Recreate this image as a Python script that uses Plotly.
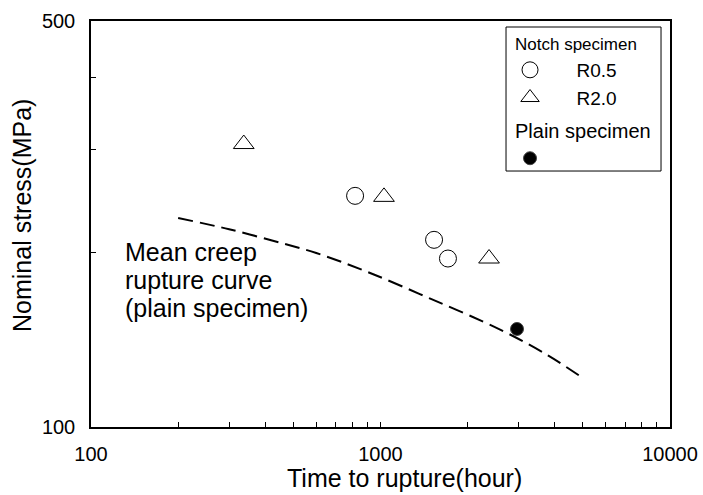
import plotly.graph_objects as go

# Data
r05_time = [817, 1531, 1710]
r05_stress = [250, 210, 195]
r20_time = [337, 1028, 2371]
r20_stress = [307, 249, 195]
plain_time = [2962]
plain_stress = [147.5]
curve_time = [200, 300, 460, 600, 900, 1500, 2600, 3800, 5000]
curve_stress = [229, 219, 207, 199.3, 185, 166, 147, 132.7, 121.4]

x_tickvals = [100, 200, 300, 400, 500, 600, 700, 800, 900, 1000,
              2000, 3000, 4000, 5000, 6000, 7000, 8000, 9000, 10000]
x_ticktext = ["100"] + [""] * 8 + ["1000"] + [""] * 8 + ["10000"]
y_tickvals = [100, 200, 300, 400, 500]
y_ticktext = ["100", "", "", "", "500"]

curve_label_lines = ["Mean creep", "rupture curve", "(plain specimen)"]
curve_label_y = [0.431, 0.362, 0.293]

FONT = "Arial, Liberation Sans, sans-serif"
NB = "\u00a0" * 5

fig = go.Figure()

fig.add_trace(go.Scatter(
    x=curve_time, y=curve_stress, mode="lines",
    line=dict(color="black", width=2, dash="15px,7px", shape="spline", smoothing=1),
    showlegend=False, hoverinfo="skip"))

fig.add_trace(go.Scatter(
    x=r05_time, y=r05_stress, mode="markers", name=NB + "R0.5",
    legendgroup="notch",
    legendgrouptitle=dict(text="Notch specimen", font=dict(size=17, family=FONT, color="black")),
    marker=dict(symbol="circle-open", size=17, color="black", line=dict(width=1, color="black"))))

fig.add_trace(go.Scatter(
    x=r20_time, y=r20_stress, mode="markers", name=NB + "R2.0",
    legendgroup="notch",
    marker=dict(symbol="triangle-up-open", size=18, color="black", line=dict(width=1, color="black"))))

fig.add_trace(go.Scatter(
    x=plain_time, y=plain_stress, mode="markers", name=" ",
    legendgroup="plain",
    legendgrouptitle=dict(text="Plain specimen", font=dict(size=20, family=FONT, color="black")),
    marker=dict(symbol="circle", size=13, color="black", line=dict(width=1, color="#444"))))

for line_text, ly in zip(curve_label_lines, curve_label_y):
    fig.add_annotation(
        xref="paper", yref="paper", x=0.0553, y=ly, xanchor="left", yanchor="middle",
        text=line_text, showarrow=False, align="left",
        font=dict(size=25, family=FONT, color="black"))

# axis titles
fig.add_annotation(
    xref="paper", yref="paper", x=0.5415, y=-0.1255, xanchor="center", yanchor="middle",
    text="Time to rupture(hour)", showarrow=False,
    font=dict(size=25, family=FONT, color="black"))
fig.add_annotation(
    xref="paper", yref="paper", x=-0.119, y=0.52, xanchor="center", yanchor="middle",
    text="Nominal stress(MPa)", showarrow=False, textangle=-90,
    font=dict(size=25, family=FONT, color="black"))

# legend frame
fig.add_shape(type="rect", xref="paper", yref="paper",
              x0=0.7168, x1=0.9845, y0=0.6305, y1=0.9852,
              line=dict(color="black", width=1), fillcolor="white", layer="below")

fig.update_layout(
    width=703, height=495,
    margin=dict(l=91, r=33, t=21, b=68),
    paper_bgcolor="white", plot_bgcolor="white",
    font=dict(family=FONT, color="black", size=20),
    legend=dict(x=0.7237, y=0.988, xanchor="left", yanchor="top",
                bgcolor="rgba(0,0,0,0)", borderwidth=0,
                font=dict(size=19, family=FONT, color="black"),
                tracegroupgap=4, itemwidth=30),
    xaxis=dict(type="log", range=[2, 4], tickvals=x_tickvals, ticktext=x_ticktext,
               ticks="inside", ticklen=5, tickcolor="black", tickwidth=1,
               showline=True, linecolor="black", linewidth=1.5, mirror=True,
               showgrid=False, zeroline=False, ticklabelstandoff=8,
               tickfont=dict(size=20), automargin=False),
    yaxis=dict(type="log", range=[2, 2.69897], tickvals=y_tickvals, ticktext=y_ticktext,
               ticks="inside", ticklen=5, tickcolor="black", tickwidth=1,
               showline=True, linecolor="black", linewidth=1.5, mirror=True,
               showgrid=False, zeroline=False, ticklabelstandoff=10,
               tickfont=dict(size=20), automargin=False),
)

fig.write_html("out.html")
